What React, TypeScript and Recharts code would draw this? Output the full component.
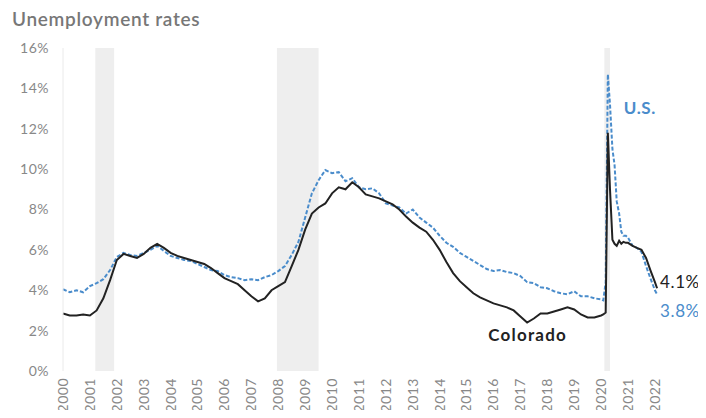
import { Line, LineChart, ReferenceArea, ReferenceDot, XAxis, YAxis, LabelList } from "recharts";

// decimal years (quarterly to 2019, monthly through 2020, then every other month)
const dates = [
  2000, 2000.25, 2000.5, 2000.75, 2001, 2001.25, 2001.5, 2001.75,
  2002, 2002.25, 2002.5, 2002.75, 2003, 2003.25, 2003.5, 2003.75,
  2004, 2004.25, 2004.5, 2004.75, 2005, 2005.25, 2005.5, 2005.75,
  2006, 2006.25, 2006.5, 2006.75, 2007, 2007.25, 2007.5, 2007.75,
  2008, 2008.25, 2008.5, 2008.75, 2009, 2009.25, 2009.5, 2009.75,
  2010, 2010.25, 2010.5, 2010.75, 2011, 2011.25, 2011.5, 2011.75,
  2012, 2012.25, 2012.5, 2012.75, 2013, 2013.25, 2013.5, 2013.75,
  2014, 2014.25, 2014.5, 2014.75, 2015, 2015.25, 2015.5, 2015.75,
  2016, 2016.25, 2016.5, 2016.75, 2017, 2017.25, 2017.5, 2017.75,
  2018, 2018.25, 2018.5, 2018.75, 2019, 2019.25, 2019.5, 2019.75,
  2020, 2020.08, 2020.17, 2020.25, 2020.33, 2020.42, 2020.5, 2020.58,
  2020.67, 2020.75, 2020.83, 2020.92, 2021, 2021.17, 2021.33, 2021.5,
  2021.67, 2021.83, 2022, 2022.08,
];

const colorado = [
  2.85, 2.75, 2.75, 2.8, 2.75, 3.0, 3.6, 4.5,
  5.5, 5.8, 5.7, 5.6, 5.8, 6.1, 6.3, 6.1,
  5.85, 5.7, 5.6, 5.5, 5.4, 5.3, 5.1, 4.85,
  4.6, 4.45, 4.3, 4.0, 3.7, 3.45, 3.6, 4.0,
  4.2, 4.4, 5.2, 6.0, 7.0, 7.8, 8.1, 8.3,
  8.8, 9.1, 9.0, 9.35, 9.1, 8.75, 8.65, 8.55,
  8.4, 8.25, 8.0, 7.65, 7.35, 7.1, 6.9, 6.5,
  6.0, 5.4, 4.85, 4.45, 4.15, 3.85, 3.65, 3.5,
  3.35, 3.25, 3.15, 3.0, 2.7, 2.4, 2.6, 2.85,
  2.85, 2.95, 3.05, 3.15, 3.05, 2.8, 2.65, 2.65,
  2.75, 2.8, 2.9, 11.8, 9.0, 6.5, 6.3, 6.2,
  6.45, 6.3, 6.4, 6.35, 6.35, 6.2, 6.1, 6.0,
  5.6, 5.0, 4.4, 4.1,
];

const us = [
  4.05, 3.9, 4.0, 3.9, 4.2, 4.35, 4.55, 5.0,
  5.65, 5.85, 5.75, 5.7, 5.85, 6.0, 6.2, 5.95,
  5.7, 5.6, 5.5, 5.45, 5.3, 5.15, 5.0, 4.95,
  4.75, 4.65, 4.6, 4.5, 4.55, 4.5, 4.65, 4.75,
  4.95, 5.2, 5.75, 6.4, 7.6, 8.8, 9.45, 9.95,
  9.8, 9.85, 9.4, 9.55, 9.1, 9.0, 9.05, 8.8,
  8.3, 8.2, 8.1, 7.8, 8.0, 7.6, 7.35, 7.1,
  6.7, 6.35, 6.15, 5.85, 5.65, 5.45, 5.25, 5.05,
  4.95, 5.0, 4.9, 4.85, 4.7, 4.4, 4.35, 4.15,
  4.1, 3.95, 3.85, 3.8, 3.95, 3.7, 3.7, 3.6,
  3.55, 3.5, 4.4, 14.7, 13.2, 11.0, 10.2, 8.4,
  7.8, 6.9, 6.7, 6.7, 6.6, 6.2, 6.1, 5.9,
  5.2, 4.6, 4.0, 3.8,
];

const yearTicks = [
  2000, 2001, 2002, 2003, 2004, 2005, 2006, 2007, 2008, 2009, 2010, 2011,
  2012, 2013, 2014, 2015, 2016, 2017, 2018, 2019, 2020, 2021, 2022,
];
const rateTicks = [0, 2, 4, 6, 8, 10, 12, 14, 16];

const recessions = [
  [2001.2, 2001.9],
  [2007.95, 2009.5],
  [2020.12, 2020.33],
];

const data = dates.map((d, i) => ({ date: d, colorado: colorado[i], us: us[i] }));

const FONT = "Lato, 'DejaVu Sans', sans-serif";
const BLUE = "#4a8ccb";
const lastIndex = data.length - 1;

function YearTick({ x, y, payload }: any) {
  const top = 378;
  return (
    <text
      x={x}
      y={top}
      transform={`rotate(-90, ${x}, ${top})`}
      textAnchor="end"
      dy="0.35em"
      fill="#888"
      fontSize={14}
      letterSpacing={0.5}
      fontFamily={FONT}
    >
      {payload.value}
    </text>
  );
}

export default function App() {
  return (
    <div style={{ margin: -8, position: "relative", width: 706, height: 418, background: "#fff" }}>
      <div
        style={{
          position: "absolute",
          left: 12,
          top: 7,
          fontFamily: FONT,
          fontSize: 19,
          letterSpacing: 0.7,
          fontWeight: 600,
          color: "#777",
        }}
      >
        Unemployment rates
      </div>
      <LineChart
        width={706}
        height={418}
        data={data}
        margin={{ top: 48, right: 43, bottom: 0, left: 0 }}
      >
        {recessions.map(([a, b]) => (
          <ReferenceArea key={a} x1={a} x2={b} y1={0} y2={16} fill="#eeeeee" fillOpacity={1} stroke="none" />
        ))}
        <XAxis
          dataKey="date"
          type="number"
          domain={[2000, 2022.3]}
          ticks={yearTicks}
          axisLine={false}
          tickLine={false}
          height={47}
          interval={0}
          tick={<YearTick />}
        />
        <YAxis
          domain={[0, 16]}
          ticks={rateTicks}
          width={63}
          axisLine={{ stroke: "#eaeaea" }}
          tickLine={false}
          tickMargin={8}
          tickFormatter={(v) => `${v}%`}
          tick={{ fill: "#888", fontSize: 14, letterSpacing: 0.5, fontFamily: FONT }}
        />
        <Line
          dataKey="us"
          stroke={BLUE}
          strokeWidth={2}
          strokeDasharray="4 2"
          dot={false}
          type="linear"
          isAnimationActive={false}
        >
          <LabelList
            dataKey="us"
            content={(p: any) =>
              p.index === lastIndex ? (
                <text x={p.x + 3} y={p.y + 18} fill={BLUE} fontSize={17} letterSpacing={0.6} fontFamily={FONT} dominantBaseline="middle">
                  3.8%
                </text>
              ) : null
            }
          />
        </Line>
        <Line
          dataKey="colorado"
          stroke="#222"
          strokeWidth={2}
          dot={false}
          type="linear"
          isAnimationActive={false}
        >
          <LabelList
            dataKey="colorado"
            content={(p: any) =>
              p.index === lastIndex ? (
                <text x={p.x + 3} y={p.y - 5} fill="#222" fontSize={17} letterSpacing={0.6} fontFamily={FONT} dominantBaseline="middle">
                  4.1%
                </text>
              ) : null
            }
          />
        </Line>
        <ReferenceDot
          x={2021.44}
          y={12.93}
          r={0}
          shape={(p: any) => (
            <text x={p.cx} y={p.cy} textAnchor="middle" dominantBaseline="middle" fill={BLUE} fontSize={17} letterSpacing={0.6} fontWeight={700} fontFamily={FONT}>
              U.S.
            </text>
          )}
        />
        <ReferenceDot
          x={2017.27}
          y={1.68}
          r={0}
          shape={(p: any) => (
            <text x={p.cx} y={p.cy} textAnchor="middle" dominantBaseline="middle" fill="#222" fontSize={17} letterSpacing={1.2} fontWeight={700} fontFamily={FONT}>
              Colorado
            </text>
          )}
        />
      </LineChart>
    </div>
  );
}
